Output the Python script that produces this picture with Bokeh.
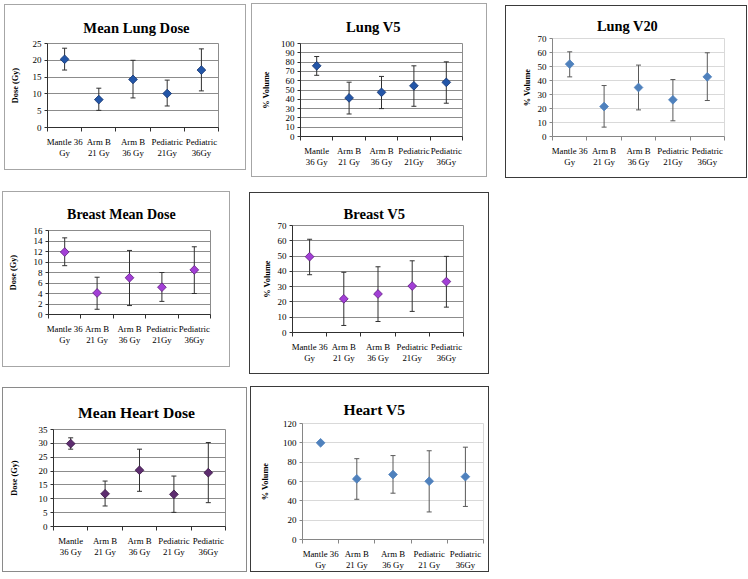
import math
from bokeh.plotting import figure
from bokeh.models import (Range1d, FixedTicker, ColumnDataSource, Whisker, TeeHead,
                          Spacer)
from bokeh.layouts import row, column
from bokeh.embed import file_html
from bokeh.resources import INLINE

# ---------------- data ----------------
CATS_A = ["Mantle 36\nGy", "Arm B\n21 Gy", "Arm B\n36 Gy", "Pediatric\n21Gy", "Pediatric\n36Gy"]
CATS_B = ["Mantle\n36 Gy", "Arm B\n21 Gy", "Arm B\n36 Gy", "Pediatric\n21Gy", "Pediatric\n36Gy"]
CATS_C = ["Mantle\n36 Gy", "Arm B\n21 Gy", "Arm B\n36 Gy", "Pediatric\n21 Gy", "Pediatric\n36Gy"]
CATS_D = ["Mantle 36\nGy", "Arm B\n21 Gy", "Arm B\n36 Gy", "Pediatric\n21 Gy", "Pediatric\n36Gy"]

MLD_MEAN = [20.3, 8.3, 14.3, 10.1, 17.1]
MLD_LOW = [17.1, 5.1, 8.8, 6.4, 10.9]
MLD_HIGH = [23.6, 11.7, 20.0, 14.1, 23.4]
MLD_TICKS = [0, 5, 10, 15, 20, 25]

LV5_MEAN = [76.0, 41.5, 47.5, 54.5, 58.2]
LV5_LOW = [65.8, 24.2, 30.0, 32.5, 35.8]
LV5_HIGH = [86.0, 58.4, 64.6, 76.0, 80.3]
LV5_TICKS = [0, 10, 20, 30, 40, 50, 60, 70, 80, 90, 100]

LV20_MEAN = [51.7, 21.4, 35.0, 26.2, 42.6]
LV20_LOW = [42.6, 6.7, 19.0, 11.2, 25.7]
LV20_HIGH = [60.5, 36.4, 51.0, 40.7, 59.8]
LV20_TICKS = [0, 10, 20, 30, 40, 50, 60, 70]

BMD_MEAN = [11.9, 4.1, 7.0, 5.2, 8.5]
BMD_LOW = [9.3, 1.0, 1.7, 2.5, 4.0]
BMD_HIGH = [14.6, 7.1, 12.2, 8.0, 12.9]
BMD_TICKS = [0, 2, 4, 6, 8, 10, 12, 14, 16]

BV5_MEAN = [49.6, 22.0, 25.2, 30.4, 33.3]
BV5_LOW = [37.8, 4.6, 7.2, 13.8, 16.6]
BV5_HIGH = [61.0, 39.4, 43.0, 46.9, 49.8]
BV5_TICKS = [0, 10, 20, 30, 40, 50, 60, 70]

MHD_MEAN = [29.9, 11.8, 20.3, 11.6, 19.4]
MHD_LOW = [27.9, 7.4, 12.7, 5.1, 8.6]
MHD_HIGH = [32.0, 16.4, 27.9, 18.2, 30.3]
MHD_TICKS = [0, 5, 10, 15, 20, 25, 30, 35]

HV5_MEAN = [100.0, 62.7, 67.2, 60.3, 65.0]
HV5_LOW = [None, 41.6, 47.9, 28.5, 34.2]
HV5_HIGH = [None, 83.6, 86.8, 91.8, 95.5]
HV5_TICKS = [0, 20, 40, 60, 80, 100, 120]

# ---------------- layout (reference pixel geometry) ----------------
FONT = "Liberation Serif"

# advance widths of Times/Liberation Serif Bold (per 1000 em), for centring titles
BOLD_W = {" ": 250, "0": 500, "2": 500, "5": 500, "B": 667, "D": 722, "H": 778, "L": 667,
          "M": 944, "V": 722, "a": 500, "e": 444, "g": 500, "n": 556, "o": 500, "r": 444,
          "s": 389, "t": 333, "u": 556}

STYLES = {
    "2003": dict(grid="#8c8c8c", axis="#303030", outline="#8c8c8c", err="#303030"),
    "2007": dict(grid="#d9d9d9", axis="#868686", outline="#d9d9d9", err="#595959"),
}

PANELS = {
    "MLD": dict(title="Mean Lung Dose", ylabel="Dose (Gy)", box=(4, 4, 246, 170),
                frame=(46, 42, 217, 126), title_xy=(135, 24), title_size=14.6, ylab_x=16,
                style="2003", border="#a6a6a6", fill="#2356A8", line="#14346E",
                data=(CATS_A, MLD_MEAN, MLD_LOW, MLD_HIGH, MLD_TICKS)),
    "LV5": dict(title="Lung V5", ylabel="% Volume", box=(251, 3, 487, 177),
                frame=(299, 42, 461, 135), title_xy=(372, 22), title_size=14.6, ylab_x=268,
                style="2003", border="#a6a6a6", fill="#2356A8", line="#14346E",
                data=(CATS_B, LV5_MEAN, LV5_LOW, LV5_HIGH, LV5_TICKS)),
    "LV20": dict(title="Lung V20", ylabel="% Volume", box=(505, 5, 747, 178),
                 frame=(551, 37, 723, 135), title_xy=(626, 21), title_size=14.4, ylab_x=528,
                 style="2007", border="#3a3a3a", fill="#4F81BD", line="#4F81BD",
                 data=(CATS_A, LV20_MEAN, LV20_LOW, LV20_HIGH, LV20_TICKS)),
    "BMD": dict(title="Breast Mean Dose", ylabel="Dose (Gy)", box=(2, 191, 230, 367),
                frame=(47, 229, 209, 313), title_xy=(120, 209), title_size=14.0, ylab_x=14,
                style="2003", border="#a6a6a6", fill="#A23FD6", line="#5E1A80",
                data=(CATS_A, BMD_MEAN, BMD_LOW, BMD_HIGH, BMD_TICKS)),
    "BV5": dict(title="Breast V5", ylabel="% Volume", box=(249, 192, 489, 374),
                frame=(291, 224, 462, 331), title_xy=(373, 211), title_size=14.6, ylab_x=268,
                style="2003", border="#3a3a3a", fill="#A23FD6", line="#5E1A80",
                data=(CATS_A, BV5_MEAN, BV5_LOW, BV5_HIGH, BV5_TICKS)),
    "MHD": dict(title="Mean Heart Dose", ylabel="Dose (Gy)", box=(2, 387, 247, 572),
                frame=(52, 428, 224, 525), title_xy=(135, 407), title_size=15.6, ylab_x=15,
                style="2003", border="#8a8a8a", fill="#5E2D70", line="#371442",
                data=(CATS_C, MHD_MEAN, MHD_LOW, MHD_HIGH, MHD_TICKS)),
    "HV5": dict(title="Heart V5", ylabel="% Volume", box=(250, 386, 489, 572),
                frame=(301, 422, 482, 542), title_xy=(373, 403), title_size=15.6, ylab_x=267,
                style="2007", border="#3a3a3a", fill="#4F81BD", line="#4F81BD",
                data=(CATS_D, HV5_MEAN, HV5_LOW, HV5_HIGH, HV5_TICKS)),
}

ROWS = [["MLD", "LV5", "LV20"], ["BMD", "BV5"], ["MHD", "HV5"]]

TICK_FS = 9
CAT_FS = 8.8
YLAB_FS = 8.3


def nanify(vals):
    return [float("nan") if v is None else v for v in vals]


def text_width(s, size):
    return sum(BOLD_W.get(ch, 500) for ch in s) / 1000.0 * size


def make_panel(spec):
    cats, mean, low, high, ticks = spec["data"]
    st = STYLES[spec["style"]]
    bl, bt, br, bb = spec["box"]
    fl, ft, fr, fb = spec["frame"]
    W, H = br - bl, bb - bt
    tsize = spec["title_size"]
    title_x, title_y = spec["title_xy"]
    p = figure(width=W, height=H, x_range=Range1d(0, len(cats)),
               y_range=Range1d(0, ticks[-1]), output_backend="svg",
               toolbar_location=None, title=spec["title"],
               min_border_left=fl - bl, min_border_right=br - fr,
               min_border_top=ft - bt, min_border_bottom=bb - fb)
    p.styles = {"border": "1px solid " + spec["border"]}
    p.background_fill_color = "white"
    p.border_fill_color = "white"
    p.outline_line_color = st["outline"]
    p.outline_line_width = 1

    # title (positioned to match the reference, without pushing the frame down)
    p.title.align = "left"
    p.title.offset = (title_x - text_width(spec["title"], tsize) / 2) - fl
    p.title.text_font = FONT
    p.title.text_font_style = "bold"
    p.title.text_font_size = f"{tsize}px"
    p.title.text_color = "black"
    half = 0.61 * tsize
    text_h = 1.46 * tsize
    wanted = 2 * (ft - title_y - half)
    limit = (ft - bt) - text_h - 0.5
    p.title.standoff = max(0, int(min(wanted, limit)))

    xs = [i + 0.5 for i in range(len(cats))]
    src = ColumnDataSource(dict(x=xs, mean=mean, lo=nanify(low), hi=nanify(high)))

    # axes
    xa = p.xaxis[0]
    xa.ticker = FixedTicker(ticks=xs, minor_ticks=list(range(len(cats) + 1)))
    xa.major_label_overrides = {x: c for x, c in zip(xs, cats)}
    xa.major_tick_out = 0
    xa.major_tick_in = 0
    xa.minor_tick_out = 4
    xa.minor_tick_in = 0
    xa.minor_tick_line_color = st["axis"]
    xa.axis_line_color = st["axis"]
    xa.major_label_text_font = FONT
    xa.major_label_text_font_size = f"{CAT_FS}px"
    xa.major_label_text_color = "black"
    xa.major_label_text_line_height = 1.15
    xa.major_label_standoff = 5

    ya = p.yaxis[0]
    ya.ticker = FixedTicker(ticks=ticks, minor_ticks=[])
    ya.major_tick_out = 3
    ya.major_tick_in = 0
    ya.major_tick_line_color = st["axis"]
    ya.axis_line_color = st["axis"]
    ya.major_label_text_font = FONT
    ya.major_label_text_font_size = f"{TICK_FS}px"
    ya.major_label_text_color = "black"
    ya.major_label_standoff = 3
    ya.axis_label = spec["ylabel"]
    ya.axis_label_text_font = FONT
    ya.axis_label_text_font_style = "bold"
    ya.axis_label_text_font_size = f"{YLAB_FS}px"
    ya.axis_label_text_color = "black"
    tlw = len(str(ticks[-1])) * 0.5 * TICK_FS
    ylab_x = spec["ylab_x"] - bl
    als = (fl - bl) - ylab_x - 3 - 3 - tlw - YLAB_FS * 0.6
    ya.axis_label_standoff = max(0, round(als))

    p.xgrid.visible = False
    p.ygrid.grid_line_color = st["grid"]
    p.ygrid.grid_line_width = 1

    # error bars
    head = dict(size=5, line_color=st["err"], line_width=1)
    p.add_layout(Whisker(source=src, base="x", upper="hi", lower="lo",
                         dimension="height", line_color=st["err"], line_width=1,
                         upper_head=TeeHead(**head), lower_head=TeeHead(**head)))
    # markers
    p.scatter("x", "mean", source=src, marker="square", angle=math.pi / 4, size=6.2,
              fill_color=spec["fill"], line_color=spec["line"], line_width=0.8)
    return p


rows = []
cur_y = 0
for names in ROWS:
    items = []
    cur_x = 0
    bottom = cur_y
    for name in names:
        spec = PANELS[name]
        bl, bt, br, bb = spec["box"]
        p = make_panel(spec)
        if bl > cur_x:
            items.append(Spacer(width=bl - cur_x, height=1))
        if bt > cur_y:
            items.append(column(Spacer(width=br - bl, height=bt - cur_y), p))
        else:
            items.append(p)
        cur_x = br
        bottom = max(bottom, bb)
    rows.append(row(*items))
    cur_y = bottom

layout = column(*rows)
open("out.html", "w").write(file_html(layout, INLINE))
